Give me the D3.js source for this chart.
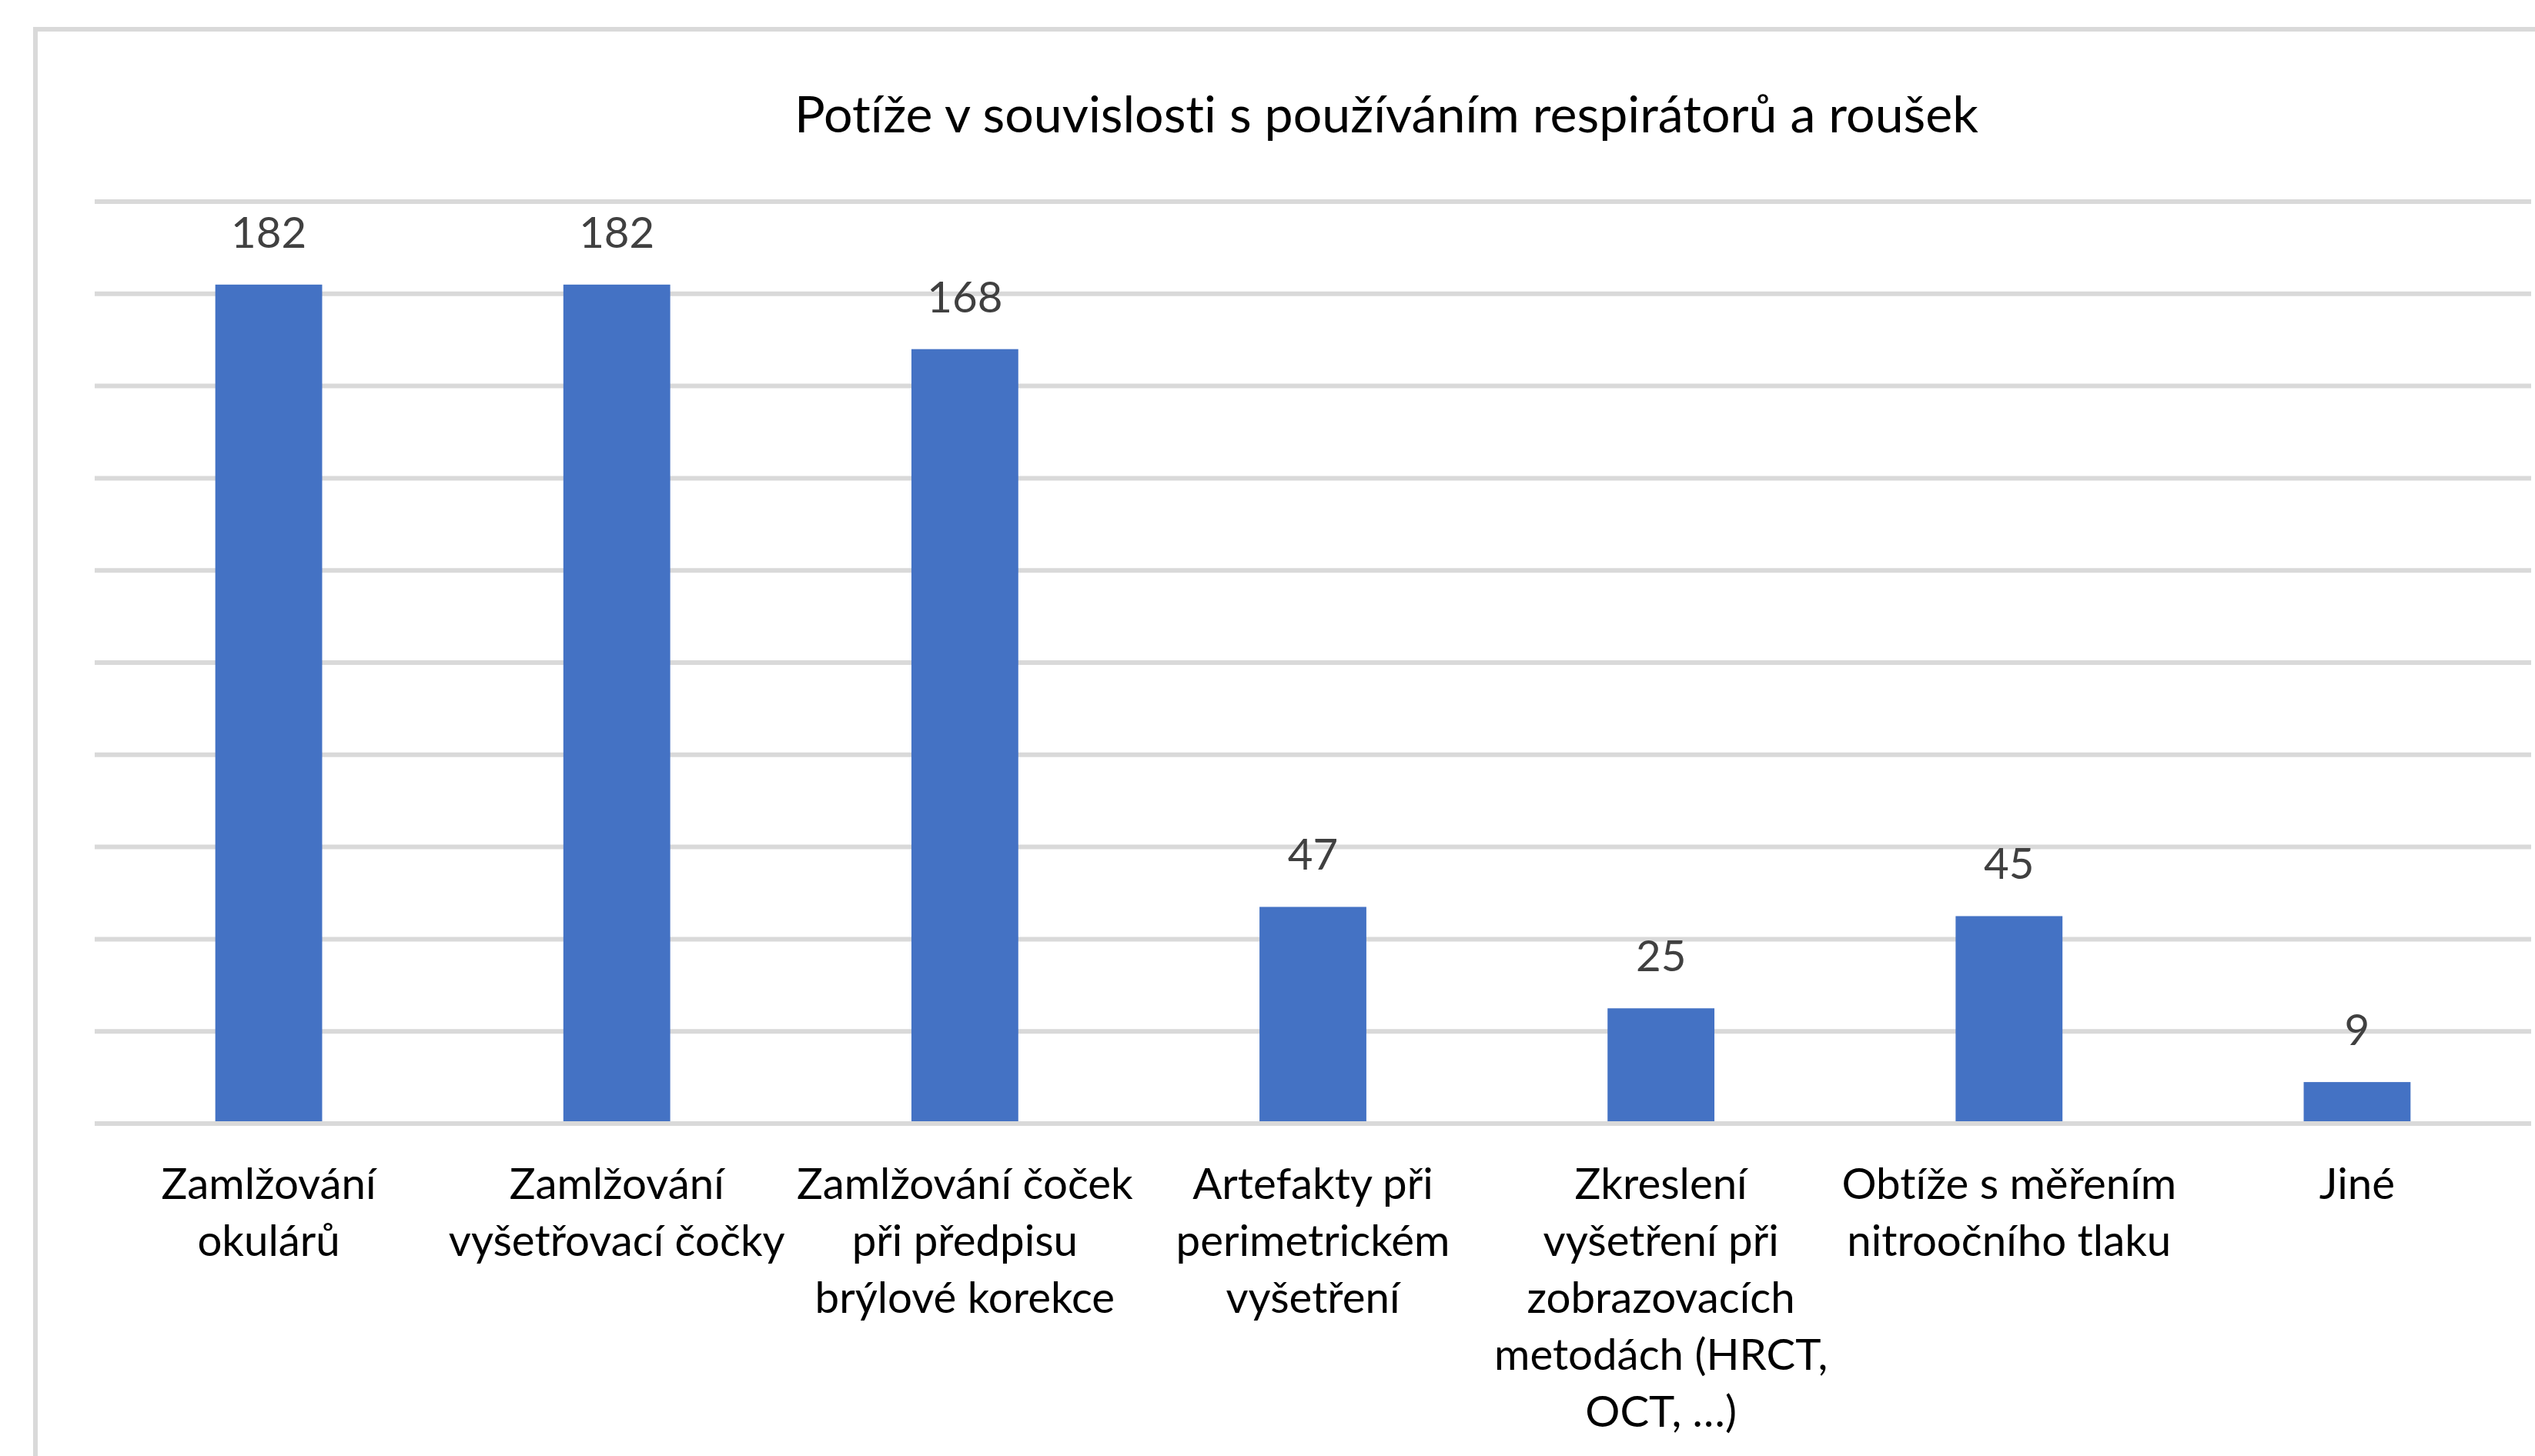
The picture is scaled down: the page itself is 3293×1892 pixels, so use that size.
<!DOCTYPE html>
<html>
<head>
<meta charset="utf-8">
<script src="https://cdn.jsdelivr.net/npm/d3@7"></script>
<style>
  html, body { margin: 0; padding: 0; background: #ffffff; }
  svg { display: block; font-family: Lato, "Open Sans", "Noto Sans", sans-serif; font-variant-ligatures: none; }
</style>
</head>
<body>
<svg id="chart"></svg>
<script>
// --- Data ---
const title = 'Potíže v souvislosti s používáním respirátorů a roušek';
const categories = [
  'Zamlžování\nokulárů',
  'Zamlžování\nvyšetřovací čočky',
  'Zamlžování čoček\npři předpisu\nbrýlové korekce',
  'Artefakty při\nperimetrickém\nvyšetření',
  'Zkreslení\nvyšetření při\nzobrazovacích\nmetodách (HRCT,\nOCT, …)',
  'Obtíže s měřením\nnitroočního tlaku',
  'Jiné'
];
const counts = [182, 182, 168, 47, 25, 45, 9];
const yTicks = [0, 20, 40, 60, 80, 100, 120, 140, 160, 180, 200];

// --- Canvas ---
const W = 3293, H = 1892;
const plot = { left: 123, right: 3288, top: 262, bottom: 1460 };
const svg = d3.select('#chart').attr('width', W).attr('height', H);

// --- Scales ---
const x = d3.scaleBand()
  .domain(categories)
  .range([plot.left, plot.right])
  .paddingInner(0.693)
  .paddingOuter(0.3465);

const y = d3.scaleLinear()
  .domain([0, 200])
  .range([plot.bottom, plot.top]);

// --- Helper: font size that makes a string reach a given width ---
function fitSize(str, target) {
  const t = svg.append('text').attr('font-size', 100).text(str);
  const w = t.node().getComputedTextLength();
  t.remove();
  return 100 * target / w;
}
const titleSize = fitSize(title, 1538);
const labelSize = fitSize('vyšetřovací čočky', 437);

// --- Chart frame (runs off the right and bottom edge) ---
svg.append('path')
  .attr('d', `M46,${H} V38 H${W}`)
  .attr('fill', 'none')
  .attr('stroke', '#d9d9d9')
  .attr('stroke-width', 6);

// --- Title ---
svg.append('text')
  .attr('x', 1801)
  .attr('y', 172)
  .attr('text-anchor', 'middle')
  .attr('font-size', titleSize)
  .attr('fill', '#000000')
  .text(title);

// --- Gridlines ---
svg.append('g')
  .selectAll('line')
  .data(yTicks)
  .join('line')
    .attr('x1', plot.left)
    .attr('x2', plot.right)
    .attr('y1', d => y(d))
    .attr('y2', d => y(d))
    .attr('stroke', '#d9d9d9')
    .attr('stroke-width', 6);

// --- Bars ---
svg.append('g')
  .selectAll('rect')
  .data(counts)
  .join('rect')
    .attr('x', (d, i) => x(categories[i]))
    .attr('width', x.bandwidth())
    .attr('y', d => y(d))
    .attr('height', d => y(0) - y(d))
    .attr('fill', '#4472c4');

// --- Horizontal axis line on top of the bars ---
const xAxis = svg.append('g')
  .attr('transform', `translate(0,${y(0)})`)
  .call(d3.axisBottom(x).tickSize(0).tickFormat(''));
xAxis.select('.domain').attr('stroke', '#d9d9d9').attr('stroke-width', 6)
  .attr('d', `M${plot.left},0H${plot.right}`);

// --- Value labels ---
svg.append('g')
  .selectAll('text')
  .data(counts)
  .join('text')
    .attr('x', (d, i) => x(categories[i]) + x.bandwidth() / 2)
    .attr('y', d => y(d) - 48)
    .attr('text-anchor', 'middle')
    .attr('font-size', labelSize)
    .attr('fill', '#404040')
    .text(d => d);

// --- Category labels (wrapped as in the reference) ---
const catLabels = svg.append('g')
  .selectAll('text')
  .data(categories)
  .join('text')
    .attr('text-anchor', 'middle')
    .attr('font-size', labelSize)
    .attr('fill', '#000000');

catLabels.selectAll('tspan')
  .data(d => d.split('\n').map(line => ({ line, cat: d })))
  .join('tspan')
    .attr('x', d => x(d.cat) + x.bandwidth() / 2)
    .attr('y', (d, i) => 1558 + i * 74)
    .text(d => d.line);
</script>
</body>
</html>
